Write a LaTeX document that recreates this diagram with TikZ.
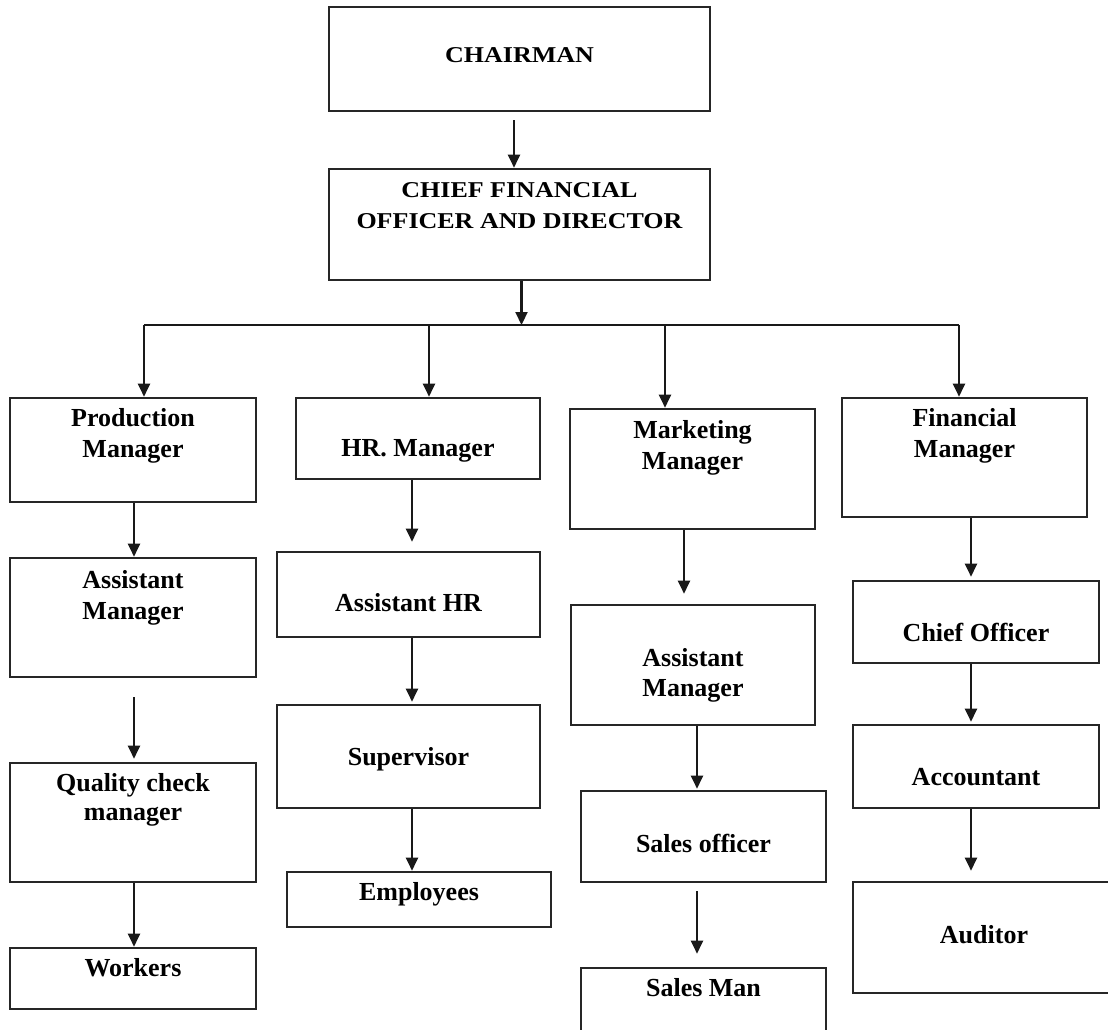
\documentclass[tikz,border=0pt]{standalone}
\usepackage{fontspec}
\setmainfont{Liberation Serif}
\usepackage{tikz}
\usetikzlibrary{arrows.meta,positioning,calc}
\tikzset{
  box/.style={rectangle, draw=black!85, line width=2.6pt, inner sep=0pt},
  txt/.style={anchor=north, align=center, inner sep=0pt, font=\bfseries\fontsize{26}{31}\selectfont},
  arrow/.style={-{Triangle[length=13pt,width=12pt]}, line width=2.2pt, draw=black!90},
  bus/.style={line width=2.2pt, draw=black!90}
}

\begin{document}
\begin{tikzpicture}[x=1pt, y=1pt]
  \useasboundingbox (0,0) rectangle (1108,-1030);
  \clip (0,0) rectangle (1108,-1030);
  % top of the chart
  \node[box, minimum width=381pt, minimum height=104pt] (chair) at (519.5,-59) {};
  \node[box, minimum width=381pt, minimum height=111pt] (cfo) at (519.5,-224.5) {};
  \node[txt, below=42pt of chair.north] (chairT) {\scalebox{1}[0.87]{CHAIRMAN}};
  \node[txt, below=15pt of cfo.north] (cfoT) {\scalebox{1}[0.87]{CHIEF FINANCIAL}\\\scalebox{1}[0.87]{OFFICER AND DIRECTOR}};
  % managers
  \node[box, minimum width=246pt, minimum height=104pt] (prod) at (133,-450) {};
  \node[box, minimum width=244pt, minimum height=81pt] (hr) at (418,-438.5) {};
  \node[box, minimum width=245pt, minimum height=120pt] (mkt) at (692.5,-469) {};
  \node[box, minimum width=245pt, minimum height=119pt] (fin) at (964.5,-457.5) {};
  \node[txt, below=12pt of prod.north] (prodT) {Production\\Manager};
  \node[txt, below=43pt of hr.north] (hrT) {HR. Manager};
  \node[txt, below=13pt of mkt.north] (mktT) {Marketing\\Manager};
  \node[txt, below=12pt of fin.north] (finT) {Financial\\Manager};
  % production column
  \node[box, minimum width=246pt, minimum height=119pt] (pasm) at (133,-617.5) {};
  \node[box, minimum width=246pt, minimum height=119pt] (qcm) at (133,-822.5) {};
  \node[box, minimum width=246pt, minimum height=61pt] (work) at (133,-978.5) {};
  \node[txt, below=14pt of pasm.north] (pasmT) {Assistant\\Manager};
  \node[txt, below=12pt of qcm.north] (qcmT) {Quality check\\[-2pt]manager};
  \node[txt, below=12pt of work.north] (workT) {Workers};
  % hr column
  \node[box, minimum width=263pt, minimum height=85pt] (ahr) at (408.5,-594.5) {};
  \node[box, minimum width=263pt, minimum height=103pt] (sup) at (408.5,-756.5) {};
  \node[box, minimum width=264pt, minimum height=55pt] (emp) at (419,-899.5) {};
  \node[txt, below=43pt of ahr.north] (ahrT) {Assistant HR};
  \node[txt, below=44pt of sup.north] (supT) {Supervisor};
  \node[txt, below=12pt of emp.north] (empT) {Employees};
  % marketing column
  \node[box, minimum width=244pt, minimum height=120pt] (masm) at (693,-665) {};
  \node[box, minimum width=245pt, minimum height=91pt] (sof) at (703.5,-836.5) {};
  \node[box, minimum width=245pt, minimum height=80pt] (sman) at (703.5,-1008) {};
  \node[txt, below=45pt of masm.north] (masmT) {Assistant\\[-1pt]Manager};
  \node[txt, below=44pt of sof.north] (sofT) {Sales officer};
  \node[txt, below=12pt of sman.north] (smanT) {Sales Man};
  % financial column
  \node[box, minimum width=246pt, minimum height=82pt] (cof) at (976,-622) {};
  \node[box, minimum width=246pt, minimum height=83pt] (acc) at (976,-766.5) {};
  \node[box, minimum width=262pt, minimum height=111pt] (aud) at (984,-937.5) {};
  \node[txt, below=43pt of cof.north] (cofT) {Chief Officer};
  \node[txt, below=44pt of acc.north] (accT) {Accountant};
  \node[txt, below=45pt of aud.north] (audT) {Auditor};
  % bus line
  \coordinate (dProd) at (144,-325);
  \coordinate (dHr) at (429,-325);
  \coordinate (dMkt) at (665,-325);
  \coordinate (dFin) at (959,-325);
  \draw[bus] (dProd) -- (dFin);
  % arrows
  \draw[arrow] ($(chair.south)+(-5.5,-8)$) -- ($(cfo.north)+(-5.5,0)$);
  \draw[arrow] ($(cfo.south)+(2,0)$) -- ($(cfo.south |- dFin)+(2,0)$);
  \draw[arrow] (dProd) -- (dProd |- prod.north);
  \draw[arrow] (dHr) -- (dHr |- hr.north);
  \draw[arrow] (dMkt) -- (dMkt |- mkt.north);
  \draw[arrow] (dFin) -- (dFin |- fin.north);
  \draw[arrow] ($(prod.south)+(1,0)$) -- ($(pasm.north)+(1,0)$);
  \draw[arrow] ($(pasm.south)+(1,-19)$) -- ($(qcm.north)+(1,3)$);
  \draw[arrow] ($(qcm.south)+(1,0)$) -- ($(work.north)+(1,0)$);
  \draw[arrow] ($(hr.south)+(-6,0)$) -- ($(ahr.north)+(3.5,9)$);
  \draw[arrow] ($(ahr.south)+(3.5,0)$) -- ($(sup.north)+(3.5,2)$);
  \draw[arrow] ($(sup.south)+(3.5,0)$) -- ($(emp.north)+(-7,0)$);
  \draw[arrow] ($(mkt.south)+(-8.5,0)$) -- ($(masm.north)+(-9,10)$);
  \draw[arrow] ($(masm.south)+(4,0)$) -- ($(sof.north)+(-6.5,1)$);
  \draw[arrow] ($(sof.south)+(-6.5,-8)$) -- ($(sman.north)+(-6.5,13)$);
  \draw[arrow] ($(fin.south)+(6.5,0)$) -- ($(cof.north)+(-5,3)$);
  \draw[arrow] ($(cof.south)+(-5,0)$) -- ($(acc.north)+(-5,2)$);
  \draw[arrow] ($(acc.south)+(-5,0)$) -- ($(aud.north)+(-13,10)$);
\end{tikzpicture}
\end{document}
